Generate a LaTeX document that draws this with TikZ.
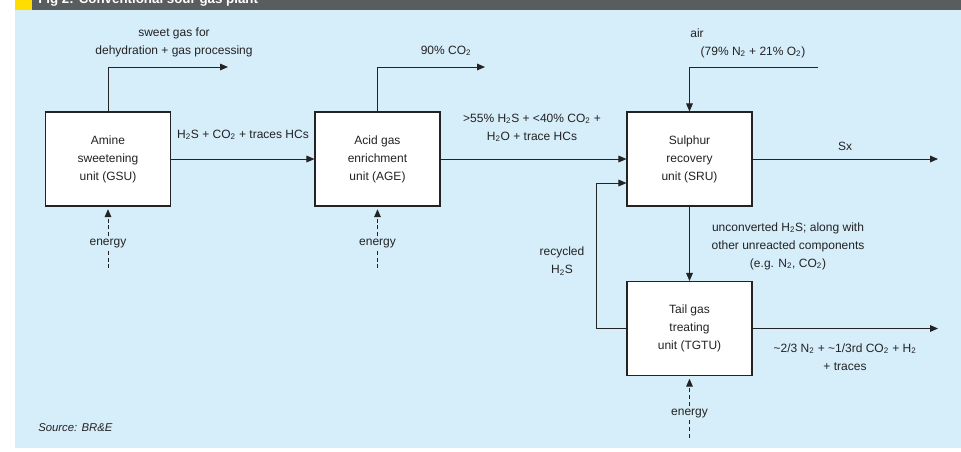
\documentclass[tikz,border=0pt]{standalone}
\usepackage{fontspec}
\setmainfont{Liberation Sans}
\usetikzlibrary{arrows.meta}

\definecolor{panelblue}{RGB}{214,237,250}
\definecolor{headgray}{RGB}{90,93,94}
\definecolor{flagyellow}{RGB}{255,221,0}
\definecolor{inkgray}{RGB}{35,35,35}

\newcommand{\lowidx}[1]{\textsubscript{#1}}

\tikzset{
  unit/.style={draw=inkgray, fill=white, line width=0.8pt, minimum width=93.75pt,
    minimum height=70.5pt, align=center, text=inkgray, font=\fontsize{9}{13.5}\selectfont},
  lbl/.style={align=center, inner sep=0pt, text=inkgray, font=\fontsize{9}{13.5}\selectfont},
  flow/.style={-{Triangle[length=6pt,width=5pt]}, line width=0.75pt, draw=inkgray},
  feed/.style={dash pattern=on 3pt off 2pt, line width=0.6pt, draw=inkgray}
}

\begin{document}
\begin{tikzpicture}[x=0.75pt,y=-0.75pt]

    \useasboundingbox (0,0) rectangle (961,451);

    % background panel and header bar
    \fill[panelblue] (15,10) rectangle (961,448);
    \fill[headgray] (15,0) rectangle (961,10);
    \fill[flagyellow] (15,0) rectangle (32,10);
    \begin{scope}
        \clip (15,0) rectangle (961,10);
        \node[anchor=base west, inner sep=0pt, text=white, font=\bfseries\fontsize{10}{12}\selectfont] (title) at (38,3) {Fig 2: Conventional sour gas plant};
    \end{scope}

    % process units
    \node[unit] (gsu) at (108,159) {Amine\\sweetening\\unit (GSU)};
    \node[unit] (age) at (377.5,159) {Acid gas\\enrichment\\unit (AGE)};
    \node[unit] (sru) at (689.5,159) {Sulphur\\recovery\\unit (SRU)};
    \node[unit] (tgtu) at (689.5,328.5) {Tail gas\\treating\\unit (TGTU)};

    % free ends of the streams
    \coordinate (sweetout) at (228,67);
    \coordinate (co2out) at (485,67);
    \coordinate (airin) at (818,67);
    \coordinate (sxout) at (938,159);
    \coordinate (tailout) at (938,328.5);

    % streams
    \draw[flow] (gsu.north) |- (sweetout);
    \draw[flow] (age.north) |- (co2out);
    \draw[flow] (gsu) -- (age);
    \draw[flow] (age) -- (sru);
    \draw[flow] (sru) -- (sxout);
    \draw[flow] (airin) -| (sru.north);
    \draw[flow] (sru) -- (tgtu);
    \draw[flow] (tgtu) -- (tailout);
    \draw[flow] (tgtu.west) -- ++(-30,0) |- ([yshift=-18pt]sru.west);

    % stream labels
    \node[lbl] (sweetlbl) at (174,42) {sweet gas for\\dehydration + gas processing};
    \node[lbl] (co2lbl) at (446,51) {90\% CO\lowidx{2}};
    \node[lbl] (acidlbl) at (243,135) {H\lowidx{2}S + CO\lowidx{2} + traces HCs};
    \node[lbl] (richlbl) at (532,128) {>55\% H\lowidx{2}S + <40\% CO\lowidx{2} +\\H\lowidx{2}O + trace HCs};
    \node[lbl] (airlbl) at (697,33) {air};
    \node[lbl] (mixlbl) at (753,52) {(79\% N\lowidx{2} + 21\% O\lowidx{2})};
    \node[lbl] (sxlbl) at (845,146) {Sx};
    \node[lbl] (recylbl) at (562,261) {recycled\\H\lowidx{2}S};
    \node[lbl] (unconvlbl) at (788,246) {unconverted H\lowidx{2}S; along with\\other unreacted components\\(e.g. N\lowidx{2}, CO\lowidx{2})};
    \node[lbl] (taillbl) at (845,357) {\textasciitilde 2/3 N\lowidx{2} + \textasciitilde 1/3rd CO\lowidx{2} + H\lowidx{2}\\+ traces};

    % energy inputs
    \foreach \u in {gsu,age,tgtu} {
        \node[lbl] (\u-eng) at ([yshift=-27.75pt]\u.south) {energy};
        \coordinate (\u-foot) at ([yshift=-20pt]\u-eng.center);
        \draw[feed,flow,shorten <=2pt,shorten >=2pt] (\u-eng.north) -- (\u.south);
        \draw[feed,shorten <=2pt] (\u-eng.south) -- (\u-foot);
    }

    % source note
    \node[lbl, anchor=west, font=\itshape\fontsize{8.5}{10}\selectfont] (source) at (38,428) {Source: BR\&E};

\end{tikzpicture}
\end{document}
